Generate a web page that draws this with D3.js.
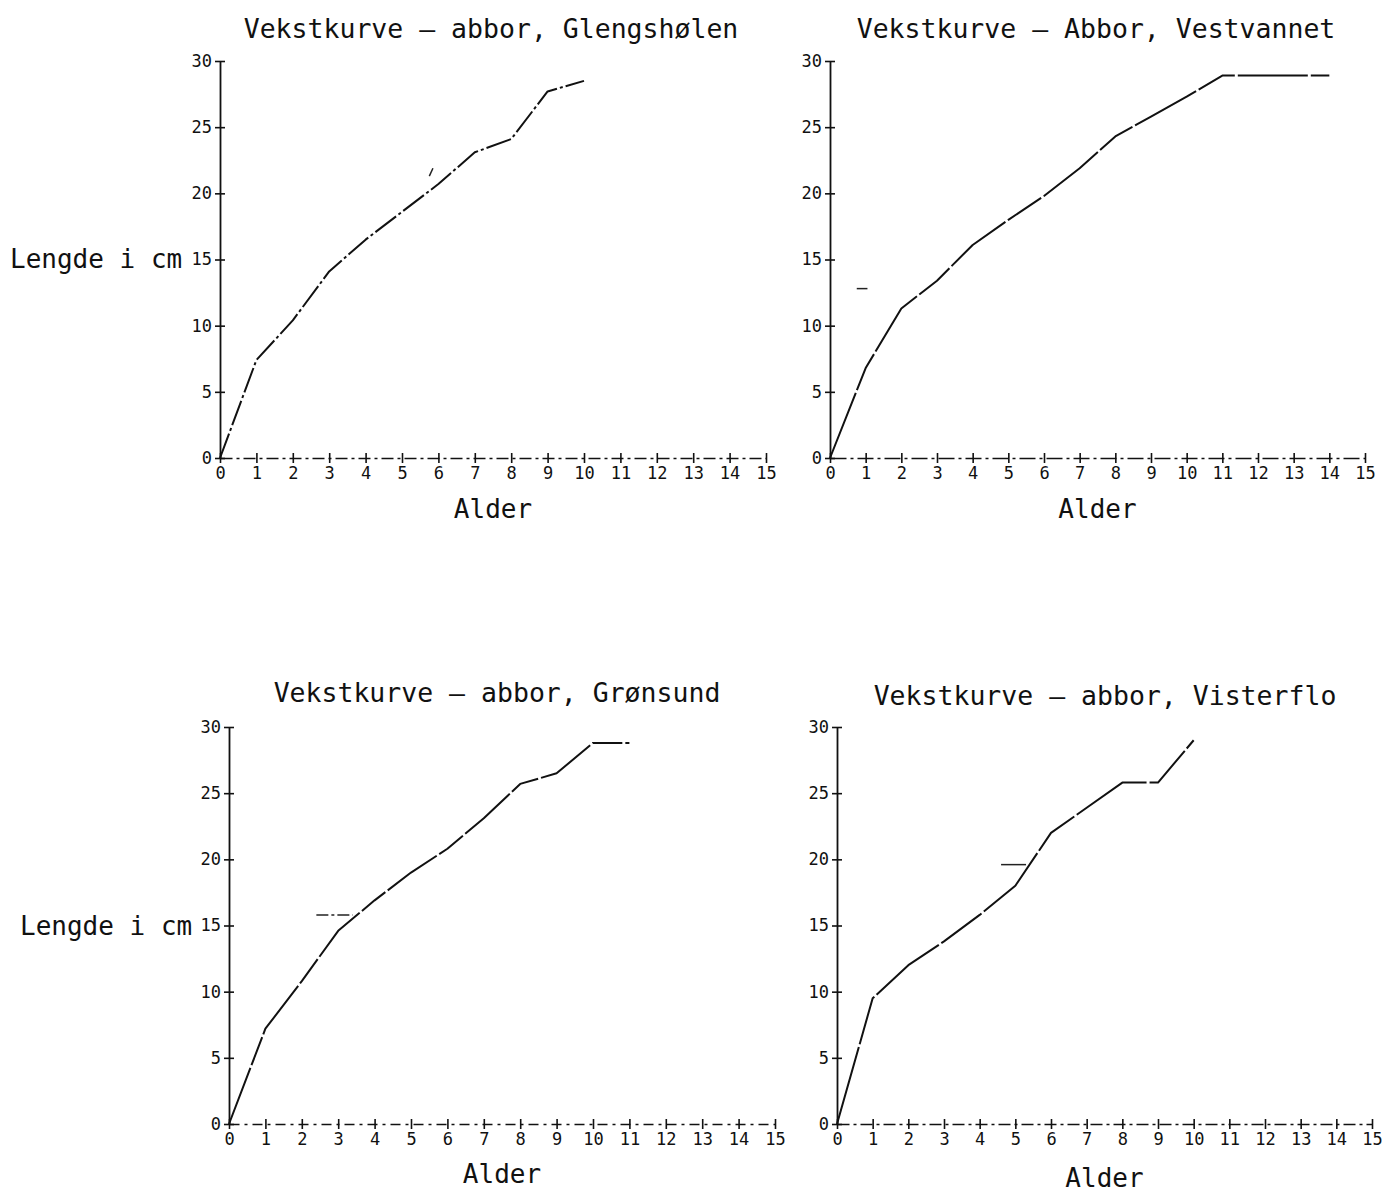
<!DOCTYPE html>
<html>
<head>
<meta charset="utf-8">
<script src="https://cdn.jsdelivr.net/npm/d3@7"></script>
<style>
  html, body { margin: 0; padding: 0; background: #fff; }
  svg { display: block; }
  text { font-family: "DejaVu Sans Mono", "Liberation Mono", monospace; fill: #111; }
</style>
</head>
<body>
<svg id="chart" width="1394" height="1192"></svg>
<script>
// Growth curves (length in cm by age in years) for perch in four lakes
const yTicks = [0, 5, 10, 15, 20, 25, 30];
const xTicks = [0, 1, 2, 3, 4, 5, 6, 7, 8, 9, 10, 11, 12, 13, 14, 15];

const titles = [
  "Vekstkurve – abbor, Glengshølen",
  "Vekstkurve – Abbor, Vestvannet",
  "Vekstkurve – abbor, Grønsund",
  "Vekstkurve – abbor, Visterflo"
];

const agesGlengsholen = [0, 1, 2, 3, 4, 5, 6, 7, 8, 9, 10];
const lenGlengsholen  = [0, 7.4, 10.4, 14.1, 16.5, 18.6, 20.7, 23.1, 24.1, 27.7, 28.5];

const agesVestvannet = [0, 1, 2, 3, 4, 5, 6, 7, 8, 9, 10, 11, 12, 13, 14];
const lenVestvannet  = [0, 6.8, 11.3, 13.4, 16.1, 18.0, 19.8, 21.9, 24.3, 25.8, 27.3, 28.9, 28.9, 28.9, 28.9];

const agesGronsund = [0, 1, 2, 3, 4, 5, 6, 7, 8, 9, 10, 11];
const lenGronsund  = [0, 7.2, 10.8, 14.6, 16.9, 19.0, 20.8, 23.1, 25.7, 26.5, 28.8, 28.8];

const agesVisterflo = [0, 1, 2, 3, 4, 5, 6, 7, 8, 9, 10];
const lenVisterflo  = [0, 9.5, 12.0, 13.8, 15.8, 18.0, 22.0, 23.9, 25.8, 25.8, 29.0];

// Loose pen strokes left on the plots by the plotter: [x1, y1, x2, y2] in data units
const penMarksGlengsholen = [[5.75, 21.3, 5.85, 21.9]];
const penMarksVestvannet  = [[0.75, 12.8, 1.05, 12.8]];
const penMarksGronsund    = [[2.4, 15.8, 3.4, 15.8]];
const penMarksVisterflo   = [[4.6, 19.6, 5.3, 19.6]];

const xLabel = "Alder";
const yLabel = "Lengde i cm";

// Frame of each panel in page pixels and pen style of each curve
const panels = [
  { left: 220, right: 766, top: 61, bottom: 458, titleX: 491, titleY: 38,
    ages: agesGlengsholen, len: lenGlengsholen, marks: penMarksGlengsholen,
    curveDash: "26,3,3,3", axisDash: "12,4,3,4", yLabel: true, yLabelX: 10, yLabelY: 268, xLabelY: 518 },
  { left: 830, right: 1365, top: 61, bottom: 458, titleX: 1096, titleY: 38,
    ages: agesVestvannet, len: lenVestvannet, marks: penMarksVestvannet,
    curveDash: "70,3,40,3", axisDash: "16,4,3,4", yLabel: false, xLabelY: 518 },
  { left: 229, right: 775, top: 727, bottom: 1124, titleX: 497, titleY: 702,
    ages: agesGronsund, len: lenGronsund, marks: penMarksGronsund,
    curveDash: "60,3,30,3", axisDash: "10,5,3,5", yLabel: true, yLabelX: 20, yLabelY: 935, xLabelY: 1183 },
  { left: 837, right: 1372, top: 727, bottom: 1124, titleX: 1105, titleY: 705,
    ages: agesVisterflo, len: lenVisterflo, marks: penMarksVisterflo,
    curveDash: "80,3,50,3", axisDash: "12,4,3,4", yLabel: false, xLabelY: 1187 }
];

const svg = d3.select("#chart");

panels.forEach((p, i) => {
  const x = d3.scaleLinear().domain([0, 15]).range([p.left, p.right]);
  const y = d3.scaleLinear().domain([0, 30]).range([p.bottom, p.top]);
  const g = svg.append("g");

  // Title
  g.append("text")
    .attr("x", p.titleX).attr("y", p.titleY)
    .attr("text-anchor", "middle")
    .style("font-size", "26.5px")
    .text(titles[i]);

  // Y axis: solid spine with ticks crossing it
  const yAxis = g.append("g")
    .attr("transform", `translate(${p.left},0)`)
    .call(d3.axisLeft(y).tickValues(yTicks).tickSize(5).tickPadding(3).tickSizeOuter(0));
  yAxis.select(".domain").attr("stroke", "#111").attr("stroke-width", 1.8);
  yAxis.selectAll(".tick line").attr("x1", 5).attr("x2", -5)
    .attr("stroke", "#111").attr("stroke-width", 1.6);
  yAxis.selectAll(".tick text")
    .style("font-family", "'DejaVu Sans Mono', monospace")
    .style("font-size", "17px").attr("fill", "#111");

  // X axis: dash-dot baseline with crossing ticks
  const xAxis = g.append("g")
    .attr("transform", `translate(0,${p.bottom})`)
    .call(d3.axisBottom(x).tickValues(xTicks).tickSize(5).tickPadding(4).tickSizeOuter(0));
  xAxis.select(".domain").attr("stroke", "#111").attr("stroke-width", 1.6)
    .attr("stroke-dasharray", p.axisDash);
  xAxis.selectAll(".tick line").attr("y1", -5).attr("y2", 5)
    .attr("stroke", "#111").attr("stroke-width", 1.6);
  xAxis.selectAll(".tick text")
    .style("font-family", "'DejaVu Sans Mono', monospace")
    .style("font-size", "17px").attr("fill", "#111");

  // Axis titles
  g.append("text")
    .attr("x", (p.left + p.right) / 2).attr("y", p.xLabelY)
    .attr("text-anchor", "middle")
    .style("font-size", "26px")
    .text(xLabel);
  if (p.yLabel) {
    g.append("text")
      .attr("x", p.yLabelX).attr("y", p.yLabelY)
      .style("font-size", "26px")
      .text(yLabel);
  }

  // Growth curve
  const line = d3.line().x(d => x(d[0])).y(d => y(d[1]));
  g.append("path")
    .datum(p.ages.map((a, k) => [a, p.len[k]]))
    .attr("d", line)
    .attr("fill", "none")
    .attr("stroke", "#111")
    .attr("stroke-width", 2)
    .attr("stroke-linejoin", "round")
    .attr("stroke-dasharray", p.curveDash);

  // Loose pen strokes
  g.selectAll(".pen")
    .data(p.marks)
    .enter().append("line")
    .attr("x1", d => x(d[0])).attr("y1", d => y(d[1]))
    .attr("x2", d => x(d[2])).attr("y2", d => y(d[3]))
    .attr("stroke", "#222").attr("stroke-width", 1.5)
    .attr("stroke-dasharray", i === 2 ? "12,3,3,3" : null);
});
</script>
</body>
</html>
